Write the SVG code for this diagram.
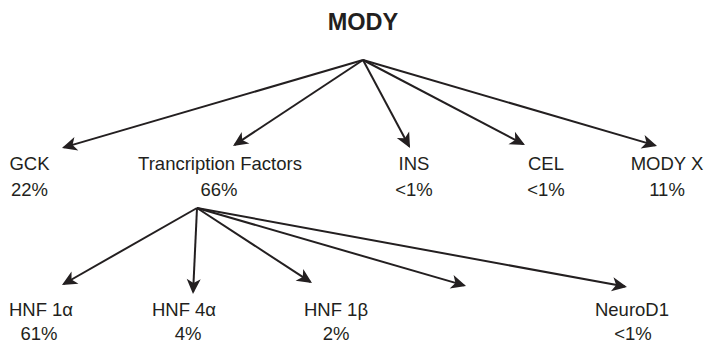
<svg xmlns="http://www.w3.org/2000/svg" width="707" height="345" viewBox="0 0 707 345">
  <style>
    .lbl { font-family: "Liberation Sans", Arial, sans-serif; font-size: 18.5px; fill: #231f20; text-anchor: middle; }
    .title { font-family: "Liberation Sans", Arial, sans-serif; font-size: 23.5px; font-weight: bold; fill: #231f20; text-anchor: middle; }
    .conn line { stroke: #231f20; stroke-width: 2; fill: none; marker-end: url(#arrow); }
  </style>
  <defs>
    <marker id="arrow" markerUnits="userSpaceOnUse" viewBox="-17 -9 18 18" markerWidth="18" markerHeight="18" refX="-2" refY="0" orient="auto">
      <path d="M0,0 L-15,-7 L-11,0 L-15,7 Z" fill="#231f20"/>
    </marker>
  </defs>
  <rect width="707" height="345" fill="#ffffff"/>

  <g id="node-mody"><text class="title" x="363" y="30">MODY</text></g>

  <g id="node-gck"><text class="lbl" x="29.5" y="170">GCK</text><text class="lbl" x="29.5" y="196">22%</text></g>
  <g id="node-tf"><text class="lbl" x="220" y="170">Trancription Factors</text><text class="lbl" x="219" y="196">66%</text></g>
  <g id="node-ins"><text class="lbl" x="414" y="170">INS</text><text class="lbl" x="414" y="196">&lt;1%</text></g>
  <g id="node-cel"><text class="lbl" x="546" y="170">CEL</text><text class="lbl" x="546" y="196">&lt;1%</text></g>
  <g id="node-modyx"><text class="lbl" x="667" y="170">MODY X</text><text class="lbl" x="667" y="196">11%</text></g>

  <g id="node-hnf1a"><text class="lbl" x="41" y="316">HNF 1α</text><text class="lbl" x="39" y="340">61%</text></g>
  <g id="node-hnf4a"><text class="lbl" x="184" y="316">HNF 4α</text><text class="lbl" x="188" y="340">4%</text></g>
  <g id="node-hnf1b"><text class="lbl" x="336" y="316">HNF 1β</text><text class="lbl" x="336" y="340">2%</text></g>
  <g id="node-neurod1"><text class="lbl" x="632" y="316">NeuroD1</text><text class="lbl" x="633" y="340">&lt;1%</text></g>

  <g id="connectors" class="conn">
    <line x1="363" y1="60" x2="63.9" y2="147.4"/>
    <line x1="363" y1="60" x2="234.7" y2="144.9"/>
    <line x1="363" y1="60" x2="409.1" y2="146.2"/>
    <line x1="363" y1="60" x2="523.2" y2="144.1"/>
    <line x1="363" y1="60" x2="655.1" y2="145.4"/>
    <line x1="197" y1="208" x2="63.7" y2="284"/>
    <line x1="197" y1="208" x2="193.1" y2="292"/>
    <line x1="197" y1="208" x2="310.3" y2="281.9"/>
    <line x1="197" y1="208" x2="464.1" y2="285.4"/>
    <line x1="197" y1="208" x2="625" y2="286.6"/>
  </g>
</svg>
